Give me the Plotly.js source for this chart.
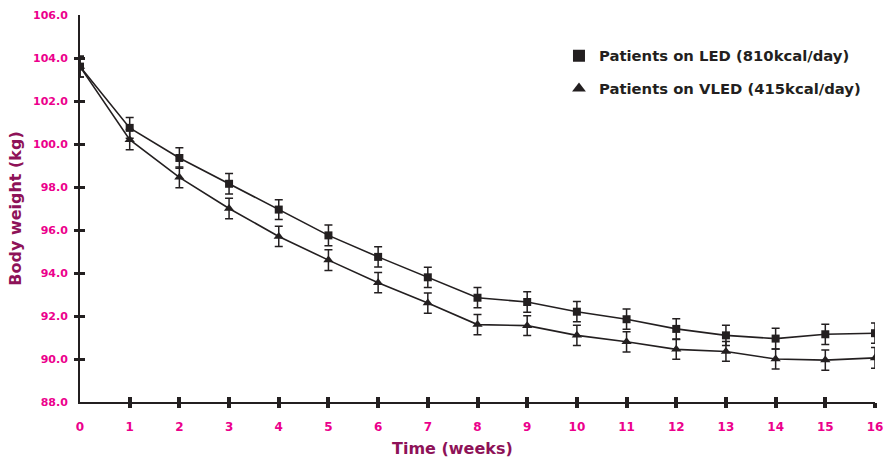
<!DOCTYPE html>
<html>
<head>
<meta charset="utf-8">
<script src="https://cdn.plot.ly/plotly-3.0.1.min.js"></script>
<style>html,body{margin:0;padding:0;background:#fff;}#chart{width:887px;height:462px;}</style>
</head>
<body>
<div id="chart"></div>
<script>
// ---- data ----
const weeks = [0, 1, 2, 3, 4, 5, 6, 7, 8, 9, 10, 11, 12, 13, 14, 15, 16];
const ledWeight  = [103.6, 100.75, 99.35, 98.15, 96.95, 95.75, 94.75, 93.8, 92.85, 92.65, 92.2, 91.85, 91.4, 91.1, 90.95, 91.15, 91.2];
const ledErr     = [0.48, 0.48, 0.48, 0.48, 0.46, 0.48, 0.47, 0.47, 0.47, 0.48, 0.47, 0.47, 0.47, 0.47, 0.48, 0.47, 0.47];
const vledWeight = [103.6, 100.2, 98.45, 97.0, 95.7, 94.6, 93.55, 92.6, 91.6, 91.55, 91.1, 90.8, 90.45, 90.35, 90.0, 89.95, 90.05];
const vledErr    = [0.48, 0.47, 0.48, 0.48, 0.47, 0.48, 0.47, 0.47, 0.47, 0.46, 0.47, 0.47, 0.46, 0.46, 0.47, 0.47, 0.48];
const seriesNames = ['Patients on LED (810kcal/day)', 'Patients on VLED (415kcal/day)'];
const yTickVals = [88, 90, 92, 94, 96, 98, 100, 102, 104, 106];
const yTickMarks = [90, 92, 94, 96, 98, 100, 102, 104];
const xTickMarks = [1, 2, 3, 4, 5, 6, 7, 8, 9, 10, 11, 12, 13, 14, 15, 16];
const xTitle = 'Time (weeks)';
const yTitle = 'Body weight (kg)';

// ---- style ----
const ink = '#231f20';
const pink = '#ec008c';
const plum = '#8e1258';
const FONT = 'DejaVu Sans, Verdana, sans-serif';

const traces = [
  {
    x: weeks, y: ledWeight, name: seriesNames[0], type: 'scatter', mode: 'lines+markers',
    line: {color: ink, width: 1.6},
    marker: {symbol: 'square', size: 8, color: ink},
    error_y: {type: 'data', array: ledErr, visible: true, color: ink, thickness: 1.5, width: 4},
    showlegend: false
  },
  {
    x: weeks, y: vledWeight, name: seriesNames[1], type: 'scatter', mode: 'lines+markers',
    line: {color: ink, width: 1.6},
    marker: {symbol: 'triangle-up', size: 9, color: ink},
    error_y: {type: 'data', array: vledErr, visible: true, color: ink, thickness: 1.5, width: 4},
    showlegend: false
  },
  // legend entries (marker only, no data points)
  {x: [null], y: [null], name: seriesNames[0], type: 'scatter', mode: 'markers',
   marker: {symbol: 'square', size: 12, color: ink}, legend: 'legend', hoverinfo: 'skip'},
  {x: [null], y: [null], name: seriesNames[1], type: 'scatter', mode: 'markers',
   marker: {symbol: 'triangle-up', size: 12, color: ink}, legend: 'legend2', hoverinfo: 'skip'},
  // empty traces so the overlay tick axes get drawn
  {x: [], y: [], xaxis: 'x2', yaxis: 'y2', type: 'scatter', mode: 'markers', showlegend: false, hoverinfo: 'skip'},
  {x: [], y: [], xaxis: 'x3', yaxis: 'y3', type: 'scatter', mode: 'markers', showlegend: false, hoverinfo: 'skip'}
];

const xr = [0, 16];
const yr = [88, 106];
const legendCommon = {
  bgcolor: 'rgba(0,0,0,0)', borderwidth: 0,
  font: {family: FONT, size: 14.8, color: ink, weight: 'bold'},
  xref: 'paper', yref: 'paper', xanchor: 'left', yanchor: 'middle'
};
const overlayAxis = (side, anchor, over, range, vals, ticks, w) => ({
  overlaying: over, anchor: anchor, side: side, range: range, tickvals: vals,
  ticks: ticks, ticklen: 5, tickwidth: w, tickcolor: ink, showticklabels: false,
  showgrid: false, zeroline: false, showline: false, fixedrange: true
});

const layout = {
  width: 887, height: 462,
  margin: {l: 80, r: 12, t: 15, b: 60, autoexpand: false},
  paper_bgcolor: '#fff', plot_bgcolor: '#fff',
  font: {family: FONT, color: ink},
  showlegend: true,
  legend: Object.assign({}, legendCommon, {x: 0.6025, y: 0.894}),
  legend2: Object.assign({}, legendCommon, {x: 0.6025, y: 0.809}),
  xaxis: {
    range: xr, showgrid: false, zeroline: false,
    showline: true, linecolor: ink, linewidth: 2,
    ticks: '', tickvals: weeks, ticktext: weeks.map(String),
    tickfont: {family: FONT, size: 12, color: pink, weight: 'bold'},
    ticklabelstandoff: 13,
    fixedrange: true
  },
  yaxis: {
    range: yr, showgrid: false, zeroline: false,
    showline: true, linecolor: ink, linewidth: 2,
    ticks: '', tickvals: yTickVals, tickformat: '.1f',
    tickfont: {family: FONT, size: 11, color: pink, weight: 'bold'},
    ticklabelstandoff: 8,
    title: {text: yTitle, font: {family: FONT, size: 16, color: plum, weight: 'bold'}, standoff: 7},
    fixedrange: true
  },
  xaxis2: overlayAxis('bottom', 'y2', 'x', xr, xTickMarks, 'outside', 4),
  yaxis2: overlayAxis('left', 'x2', 'y', yr, yTickMarks, 'outside', 3),
  xaxis3: overlayAxis('bottom', 'y3', 'x', xr, xTickMarks, 'inside', 4),
  yaxis3: overlayAxis('left', 'x3', 'y', yr, yTickMarks, 'inside', 3),
  annotations: [{
    text: xTitle, xref: 'paper', yref: 'paper', x: 0.469, y: -0.119,
    xanchor: 'center', yanchor: 'middle', showarrow: false,
    font: {family: FONT, size: 16, color: plum, weight: 'bold'}
  }]
};

Plotly.newPlot('chart', traces, layout, {staticPlot: true, displayModeBar: false});
</script>
</body>
</html>
